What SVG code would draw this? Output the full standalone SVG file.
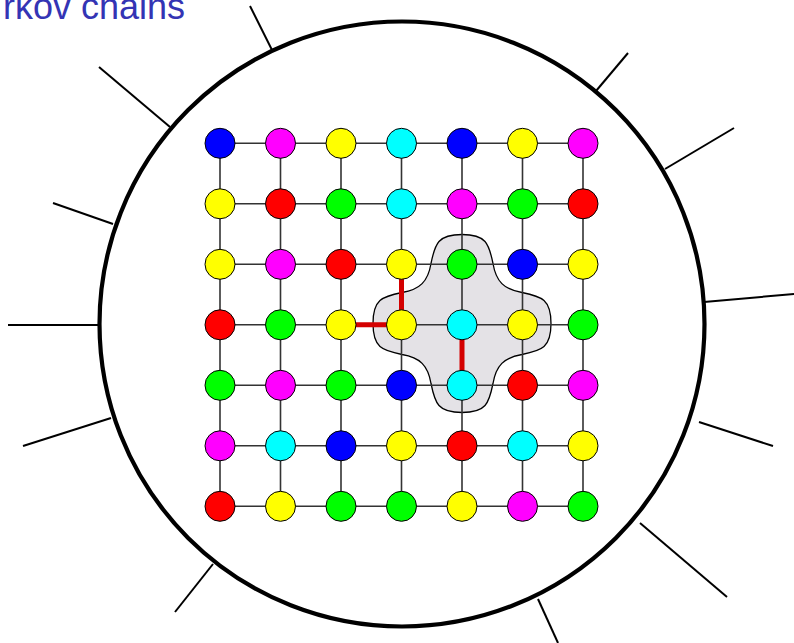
<svg xmlns="http://www.w3.org/2000/svg" width="794" height="643" viewBox="0 0 794 643">
<style>
.bg{fill:#ffffff}
.rim{fill:none;stroke:#000;stroke-width:4.2}
.spoke{stroke:#000;stroke-width:2;fill:none}
.grid{stroke:#333;stroke-width:1.6;fill:none}
.path{stroke:#d40000;stroke-width:5;fill:none}
.blob{fill:#e4e2e6;stroke:#000;stroke-width:1.3}
.n circle{stroke:#000;stroke-width:1}
.B{fill:#0000ff}.M{fill:#ff00ff}.Y{fill:#ffff00}.C{fill:#00ffff}.R{fill:#ff0000}.G{fill:#00ff00}
.title{font-family:"Liberation Sans",Arial,sans-serif;font-size:36px;fill:#3434b4}
</style>
<rect class="bg" x="0" y="0" width="794" height="643"/>
<text class="title" x="185" y="19" text-anchor="end">rkov chains</text>
<g id="boundary">
<circle class="rim" cx="402" cy="324" r="302.5"/>
<g id="spokes">
<line class="spoke" x1="250" y1="6" x2="272" y2="50"/>
<line class="spoke" x1="628" y1="53" x2="596" y2="91"/>
<line class="spoke" x1="734" y1="128" x2="665" y2="169"/>
<line class="spoke" x1="794" y1="294" x2="704" y2="302"/>
<line class="spoke" x1="99" y1="67" x2="170" y2="127"/>
<line class="spoke" x1="53" y1="203" x2="113" y2="224"/>
<line class="spoke" x1="8" y1="325" x2="98" y2="325"/>
<line class="spoke" x1="23" y1="446" x2="111" y2="418"/>
<line class="spoke" x1="175" y1="612" x2="213" y2="564"/>
<line class="spoke" x1="558" y1="643" x2="538" y2="599"/>
<line class="spoke" x1="727" y1="597" x2="640" y2="523"/>
<line class="spoke" x1="773" y1="446" x2="699" y2="422"/>
</g>
</g>
<g id="neighbourhood">
<path class="blob" d="M462,234.5 C438,234.5 435,243.5 431,263.5 C428,281.5 420,289.5 402,292.5 C382,296.5 373,299.5 373,323.5 C373,347.5 382,350.5 402,354.5 C420,357.5 428,365.5 431,383.5 C435,403.5 438,412.5 462,412.5 C486,412.5 489,403.5 493,383.5 C496,365.5 504,357.5 522,354.5 C542,350.5 551,347.5 551,323.5 C551,299.5 542,296.5 522,292.5 C504,289.5 496,281.5 493,263.5 C489,243.5 486,234.5 462,234.5 Z"/>
</g>
<g id="connectors">
<g class="grid">
<line x1="220" y1="143.3" x2="583" y2="143.3"/>
<line x1="220" y1="203.8" x2="583" y2="203.8"/>
<line x1="220" y1="264.3" x2="583" y2="264.3"/>
<line x1="220" y1="324.8" x2="583" y2="324.8"/>
<line x1="220" y1="385.3" x2="583" y2="385.3"/>
<line x1="220" y1="445.8" x2="583" y2="445.8"/>
<line x1="220" y1="506.3" x2="583" y2="506.3"/>
<line x1="220" y1="143.3" x2="220" y2="506.3"/>
<line x1="280.5" y1="143.3" x2="280.5" y2="506.3"/>
<line x1="341" y1="143.3" x2="341" y2="506.3"/>
<line x1="401.5" y1="143.3" x2="401.5" y2="506.3"/>
<line x1="462" y1="143.3" x2="462" y2="506.3"/>
<line x1="522.5" y1="143.3" x2="522.5" y2="506.3"/>
<line x1="583" y1="143.3" x2="583" y2="506.3"/>
</g>
<g class="path">
<polyline points="341,324.8 401.5,324.8 401.5,264.3"/>
<line x1="462" y1="324.8" x2="462" y2="385.3"/>
</g>
</g>
<g class="n">
<g id="n00"><circle class="B" cx="220" cy="143.3" r="15"/></g>
<g id="n01"><circle class="M" cx="280.5" cy="143.3" r="15"/></g>
<g id="n02"><circle class="Y" cx="341" cy="143.3" r="15"/></g>
<g id="n03"><circle class="C" cx="401.5" cy="143.3" r="15"/></g>
<g id="n04"><circle class="B" cx="462" cy="143.3" r="15"/></g>
<g id="n05"><circle class="Y" cx="522.5" cy="143.3" r="15"/></g>
<g id="n06"><circle class="M" cx="583" cy="143.3" r="15"/></g>
<g id="n10"><circle class="Y" cx="220" cy="203.8" r="15"/></g>
<g id="n11"><circle class="R" cx="280.5" cy="203.8" r="15"/></g>
<g id="n12"><circle class="G" cx="341" cy="203.8" r="15"/></g>
<g id="n13"><circle class="C" cx="401.5" cy="203.8" r="15"/></g>
<g id="n14"><circle class="M" cx="462" cy="203.8" r="15"/></g>
<g id="n15"><circle class="G" cx="522.5" cy="203.8" r="15"/></g>
<g id="n16"><circle class="R" cx="583" cy="203.8" r="15"/></g>
<g id="n20"><circle class="Y" cx="220" cy="264.3" r="15"/></g>
<g id="n21"><circle class="M" cx="280.5" cy="264.3" r="15"/></g>
<g id="n22"><circle class="R" cx="341" cy="264.3" r="15"/></g>
<g id="n23"><circle class="Y" cx="401.5" cy="264.3" r="15"/></g>
<g id="n24"><circle class="G" cx="462" cy="264.3" r="15"/></g>
<g id="n25"><circle class="B" cx="522.5" cy="264.3" r="15"/></g>
<g id="n26"><circle class="Y" cx="583" cy="264.3" r="15"/></g>
<g id="n30"><circle class="R" cx="220" cy="324.8" r="15"/></g>
<g id="n31"><circle class="G" cx="280.5" cy="324.8" r="15"/></g>
<g id="n32"><circle class="Y" cx="341" cy="324.8" r="15"/></g>
<g id="n33"><circle class="Y" cx="401.5" cy="324.8" r="15"/></g>
<g id="n34"><circle class="C" cx="462" cy="324.8" r="15"/></g>
<g id="n35"><circle class="Y" cx="522.5" cy="324.8" r="15"/></g>
<g id="n36"><circle class="G" cx="583" cy="324.8" r="15"/></g>
<g id="n40"><circle class="G" cx="220" cy="385.3" r="15"/></g>
<g id="n41"><circle class="M" cx="280.5" cy="385.3" r="15"/></g>
<g id="n42"><circle class="G" cx="341" cy="385.3" r="15"/></g>
<g id="n43"><circle class="B" cx="401.5" cy="385.3" r="15"/></g>
<g id="n44"><circle class="C" cx="462" cy="385.3" r="15"/></g>
<g id="n45"><circle class="R" cx="522.5" cy="385.3" r="15"/></g>
<g id="n46"><circle class="M" cx="583" cy="385.3" r="15"/></g>
<g id="n50"><circle class="M" cx="220" cy="445.8" r="15"/></g>
<g id="n51"><circle class="C" cx="280.5" cy="445.8" r="15"/></g>
<g id="n52"><circle class="B" cx="341" cy="445.8" r="15"/></g>
<g id="n53"><circle class="Y" cx="401.5" cy="445.8" r="15"/></g>
<g id="n54"><circle class="R" cx="462" cy="445.8" r="15"/></g>
<g id="n55"><circle class="C" cx="522.5" cy="445.8" r="15"/></g>
<g id="n56"><circle class="Y" cx="583" cy="445.8" r="15"/></g>
<g id="n60"><circle class="R" cx="220" cy="506.3" r="15"/></g>
<g id="n61"><circle class="Y" cx="280.5" cy="506.3" r="15"/></g>
<g id="n62"><circle class="G" cx="341" cy="506.3" r="15"/></g>
<g id="n63"><circle class="G" cx="401.5" cy="506.3" r="15"/></g>
<g id="n64"><circle class="Y" cx="462" cy="506.3" r="15"/></g>
<g id="n65"><circle class="M" cx="522.5" cy="506.3" r="15"/></g>
<g id="n66"><circle class="G" cx="583" cy="506.3" r="15"/></g>
</g>
</svg>
